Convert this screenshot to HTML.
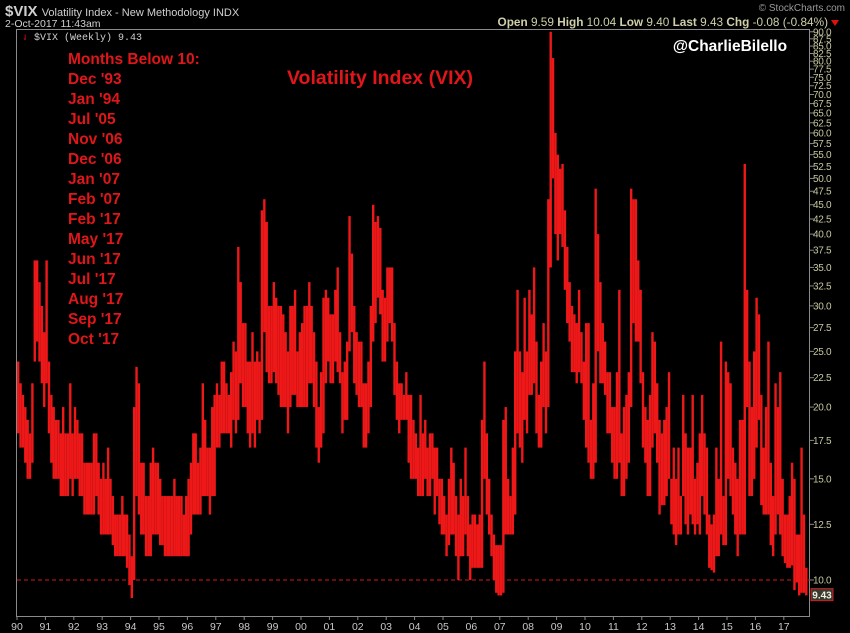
<!DOCTYPE html>
<html><head><meta charset="utf-8"><style>
body{margin:0;background:#000;width:850px;height:633px;overflow:hidden;font-family:"Liberation Sans",sans-serif}
svg{display:block}
</style></head><body>
<svg id="c" width="850" height="633" viewBox="0 0 850 633">
<rect x="0" y="0" width="850" height="633" fill="#000"/>
<text x="5" y="16" fill="#cfcfcf" font-size="15" font-weight="bold">$VIX <tspan font-size="11" font-weight="normal">Volatility Index - New Methodology  INDX</tspan></text>
<text x="5" y="27" fill="#cfcfcf" font-size="10.5">2-Oct-2017 11:43am</text>
<text x="845" y="11" fill="#999" font-size="10" text-anchor="end">© StockCharts.com</text>
<text x="828" y="26" fill="#cfcfaa" font-size="11.8" text-anchor="end"><tspan font-weight="bold">Open</tspan> 9.59 <tspan font-weight="bold">High</tspan> 10.04 <tspan font-weight="bold">Low</tspan> 9.40 <tspan font-weight="bold">Last</tspan> 9.43 <tspan font-weight="bold">Chg</tspan> -0.08 (-0.84%)</text>
<polygon points="831,20 839,20 835,26" fill="#e01010"/>
<rect x="16.5" y="29.5" width="793" height="587" fill="none" stroke="#8a8a8a"/>
<g id="grid"></g>
<g id="xax"></g>
<g id="bars"></g>
<text x="22" y="40" fill="#cfcfcf" font-size="10" font-family="Liberation Mono, monospace"><tspan fill="#e01010">⇃</tspan> $VIX (Weekly) 9.43</text>
<g fill="#e0161a" font-size="15.5" font-weight="bold">
<text x="68" y="64">Months Below 10:</text>
<text x="68" y="84">Dec '93</text><text x="68" y="104">Jan '94</text><text x="68" y="124">Jul '05</text>
<text x="68" y="144">Nov '06</text><text x="68" y="164">Dec '06</text><text x="68" y="184">Jan '07</text>
<text x="68" y="204">Feb '07</text><text x="68" y="224">Feb '17</text><text x="68" y="244">May '17</text>
<text x="68" y="264">Jun '17</text><text x="68" y="284">Jul '17</text><text x="68" y="304">Aug '17</text>
<text x="68" y="324">Sep '17</text><text x="68" y="344">Oct '17</text>
</g>
<text x="380" y="84" fill="#e0161a" font-size="19.5" font-weight="bold" text-anchor="middle">Volatility Index (VIX)</text>
<text x="730" y="51" fill="#fff" font-size="15.5" font-weight="bold" text-anchor="middle">@CharlieBilello</text>
</svg>
<script>
const years=[1990,1991,1992,1993,1994,1995,1996,1997,1998,1999,2000,2001,2002,2003,2004,2005,2006,2007,2008,2009,2010,2011,2012,2013,2014,2015,2016,2017];
const highs=[
[24,22,21,20,19,18,22,36,36,33,30,27],
[36,24,21,20,19,19,18,20,18,18,22,18],
[20,19,18,18,16,16,16,16,18,18,16,15],
[16,15,17,15,14,13,13,13,14,13,13,12],
[11,20,23.5,22,16,16,14,14,16,17,16,16],
[15,14,14,14,14,14,15,14,14,14,13,14],
[15,16,18,18,16,17,22,19,17,17,20,21],
[22,21,24,24,22,21,23,26,25,38,33,28],
[28,24,24,27,24,25,24,44,46,42,30,30],
[33,31,30,30,29,27,25,30,30,32,25,27],
[28,30,30,33,30,27,24,20,23,31,32,31],
[29,29,32,35,27,23,24,26,43,37,30,27],
[26,26,22,22,24,30,45,42,43,41,32,31],
[35,35,35,28,24,22,22,21,23,21,21,19],
[18,17,21,18,19,17,18,18,17,17,15,15],
[14,13,15,17,16,14,13,15,14,17,14,12.5],
[13,13,12.5,13,19,24,18,15,13,12,11.5,11.5],
[11.5,19,20,15,14,17,25,32,25,23,31,25],
[32,29,35,26,21,24,28,25,46,90,81,60],
[55,52,53,44,38,33,30,29,28,32,27,24],
[28,28,19,22,48,40,33,28,26,23,23,20],
[20,23,32,18,20,21,23,48,46,46,36,32],
[23,20,19,21,27,26,22,19,18,19,20,23],
[15,17,15,17,14,21,18,17,17,21,15,16],
[18,21,18,17,13,12.5,13,17,15,26,14,24],
[23,22,17,16,15,19,19,53,32,24,20,25],
[31,29,21,17,20,26,16,14,22,20,23,15],
[13,13,14,16,15,12,12,17,13,10.5]];
const lows=[
[18,17,17,16,15,15,16,24,26,24,22,20],
[22,18,16,15,15,15,14,14,14,14,15,14],
[15,15,14,14,13,13,13,13,13,14,13,12],
[12,12,12,12,11.5,11,11,11,11,11,10.5,9.8],
[9.3,10,14,13,12,12,11,11,11,12,12,12],
[11.5,11.5,11,11,11,11,11,11,11,11,11,11],
[11,12,13,13,13,13,14,14,14,13,14,14],
[17,17,18,18,18,18,17,19,18,19,22,20],
[20,18,17,18,17,19,18,19,27,23,22,22],
[23,22,21,20,20,20,18,20,21,21,20,20],
[20,20,20,22,22,20,17,16,17,18,22,24],
[22,22,24,23,22,18,19,19,25,27,22,21],
[20,20,17,17,18,20,26,28,31,29,24,24],
[26,28,26,21,19,18,19,19,19,16,15,15],
[15,14,14,14,15,14,14,15,13,14,12.5,12],
[12,11,11.5,12,12,11,10,11,11,12,11,10],
[10.5,10.5,10.5,10.5,10.5,15,13,12,11,10,9.5,9.4],
[9.4,9.5,12,12,12,12,13,18,17,16,19,18],
[21,21,22,18,17,17,20,18,20,35,50,40],
[36,40,38,32,28,26,23,23,22,23,22,19],
[17,16,15,15,16,25,22,22,21,18,18,16],
[15,15,16,14,14,15,16,20,28,26,26,22],
[17,16,14,14,17,18,16,13,13.5,13.5,14,15],
[12.5,12,11.5,12,12,14,12.5,12,13,12.5,12,12.5],
[12,14,13,12,10.5,10.4,10.3,11,11,12,11.5,11.5],
[15,14,13,12,11,12,12,12,20,14,14,15],
[17,19,13.5,13,13,13,11.5,11,12,13,12,11],
[10.7,10.5,10.5,10.6,9.6,9.9,9.4,9.5,9.5,9.4]];
const yTicks=[90,87.5,85,82.5,80,77.5,75,72.5,70,67.5,65,62.5,60,57.5,55,52.5,50,47.5,45,42.5,40,37.5,35,32.5,30,27.5,25,22.5,20,17.5,15,12.5,10];
const xLabels=["90","91","92","93","94","95","96","97","98","99","00","01","02","03","04","05","06","07","08","09","10","11","12","13","14","15","16","17"];
const lastValue=9.43;
const refLevel=10;

const NS="http://www.w3.org/2000/svg";
function yS(v){return 580-249.5*Math.log(v/10);}
function xS(t){return 17+(t-1990)*28.4;}
function mk(tag,attrs,parent){const e=document.createElementNS(NS,tag);for(const k in attrs)e.setAttribute(k,attrs[k]);parent.appendChild(e);return e;}
const grid=document.getElementById('grid'),xax=document.getElementById('xax'),bars=document.getElementById('bars');
yTicks.forEach(v=>{
  const y=yS(v);
  const t=mk('line',{x1:810,x2:814,y1:y,y2:y,stroke:'#8a8a8a'},grid);
  
  
  const l=mk('text',{x:813,y:y+3.5,fill:'#c8c8a0','font-size':10,'letter-spacing':'-0.3'},grid);
  l.textContent=v.toFixed(1);
  
  
});
xLabels.forEach((s,i)=>{
  const x=xS(years[i]);
  const t=mk('line',{x1:x,x2:x,y1:617,y2:620,stroke:'#8a8a8a'},xax);
  
  
  const l=mk('text',{x:x,y:630,fill:'#c8c8c8','font-size':10.5,'text-anchor':'middle'},xax);
  l.textContent=s;
  
  
});
const ref=mk('line',{x1:17,x2:810,y1:yS(refLevel),y2:yS(refLevel),stroke:'#d01818','stroke-dasharray':'4,3','stroke-width':1},bars);


years.forEach((yr,i)=>{
  highs[i].forEach((h,m)=>{
    const lo=lows[i][m];
    const x=xS(yr+m/12);
    const r=mk('rect',{x:x,y:yS(h),width:2.4,height:Math.max(1,yS(lo)-yS(h)),fill:'#ee1818'},bars);
    
    
  });
});
const ly=yS(lastValue);
const box=mk('rect',{x:811,y:ly-6,width:22,height:12,fill:'#3a3a30',stroke:'#d02020'},bars);


const lt=mk('text',{x:822,y:ly+4,fill:'#f0f0e0','font-size':10,'font-weight':'bold','text-anchor':'middle'},bars);
lt.textContent=lastValue.toFixed(2);


</script>
</body></html>
